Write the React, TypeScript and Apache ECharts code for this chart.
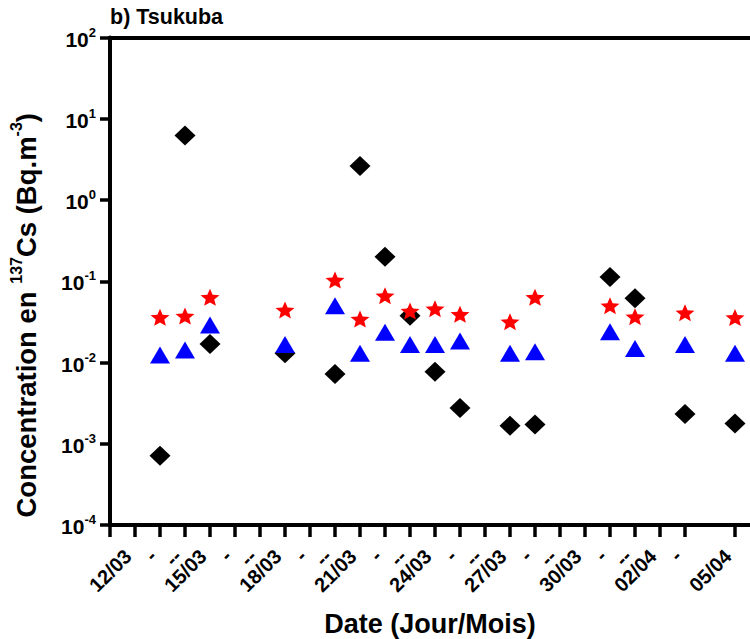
import React, { useEffect, useRef } from "react";
import * as echarts from "echarts";

const dayLabels = ["", "12/03", "-", "--", "15/03", "-", "--", "18/03", "-", "--", "21/03", "-", "--", "24/03", "-", "--", "27/03", "-", "--", "30/03", "-", "--", "02/04", "-", "--", "05/04"];
const sampleDay = [2, 3, 4, 7, 9, 10, 11, 12, 13, 14, 16, 17, 20, 21, 23, 25];
const diamondValues = [0.00071, 6.2, 0.0169, 0.013, 0.0072, 2.62, 0.2, 0.0377, 0.0077, 0.00275, 0.00167, 0.00173, 0.113, 0.0616, 0.00232, 0.00178];
const triangleValues = [0.0124, 0.01425, 0.029, 0.0167, 0.05, 0.013, 0.0235, 0.0167, 0.0167, 0.0184, 0.013, 0.0136, 0.0239, 0.0149, 0.0167, 0.013];
const starValues = [0.036, 0.0373, 0.0634, 0.0443, 0.1036, 0.0343, 0.0664, 0.043, 0.0459, 0.0392, 0.0318, 0.0634, 0.05, 0.0366, 0.041, 0.0357];

const FONT = "Liberation Sans";
const STAR = "path://M100 0 L126.45 63.59 L195.11 69.1 L142.8 113.91 L158.78 180.9 L100 145 L41.22 180.9 L57.2 113.91 L4.89 69.1 L73.55 63.59 Z";

export default function App() {
  const ref = useRef<HTMLDivElement>(null);
  useEffect(() => {
    document.body.style.margin = "0";
    const chart = echarts.init(ref.current!, null, { renderer: "svg" });
    const pairs = (vals: number[]) => sampleDay.map((d, i) => [d, vals[i]]);
    const tickIdx = dayLabels.map((_, i) => i);
    chart.setOption({
      animation: false,
      backgroundColor: "#fff",
      title: {
        text: "b) Tsukuba",
        left: 110,
        top: 6,
        padding: 0,
        textStyle: { fontFamily: FONT, fontWeight: "bold", fontSize: 21.5, color: "#000" },
      },
      grid: { left: 110, right: 0, top: 37.5, bottom: 114, containLabel: false, outerBoundsMode: "none" },
      xAxis: [
        {
          type: "value",
          min: 0,
          max: 25.6,
          name: "Date (Jour/Mois)",
          nameLocation: "middle",
          nameGap: 85,
          nameTextStyle: { fontFamily: FONT, fontWeight: "bold", fontSize: 27, color: "#000" },
          axisLine: { onZero: false, lineStyle: { color: "#000", width: 4 } },
          axisTick: { customValues: tickIdx, length: 12, lineStyle: { color: "#000", width: 3.5 } },
          axisLabel: {
            customValues: tickIdx,
            rotate: 45,
            margin: 35,
            verticalAlign: "bottom",
            align: "right",
            showMaxLabel: true,
            showMinLabel: true,
            hideOverlap: false,
            fontFamily: FONT,
            fontWeight: "bold",
            fontSize: 20,
            color: "#000",
            formatter: (v: number) => dayLabels[Math.round(v)] ?? "",
          },
          splitLine: { show: false },
        },
        {
          type: "value",
          position: "top",
          min: 0,
          max: 25.6,
          axisLine: { onZero: false, lineStyle: { color: "#000", width: 4 } },
          axisTick: { show: false },
          axisLabel: { show: false },
          splitLine: { show: false },
        },
      ],
      yAxis: {
        type: "log",
        logBase: 10,
        min: 0.0001,
        max: 100,
        name: "{n|Concentration en }{s|137}{n|Cs (Bq.m}{s|-3}{n|)}",
        nameLocation: "middle",
        nameRotate: 90,
        nameGap: 70,
        nameTextStyle: {
          padding: [0, 68, 0, 0],
          rich: {
            n: { fontFamily: FONT, fontWeight: "bold", fontSize: 27.5, color: "#000", verticalAlign: "bottom", padding: [4, 0, 0, 0] },
            s: { fontFamily: FONT, fontWeight: "bold", fontSize: 16, color: "#000", verticalAlign: "top" },
          },
        },
        axisLine: { show: true, lineStyle: { color: "#000", width: 4 } },
        axisTick: { show: true, length: 10, lineStyle: { color: "#000", width: 3.5 } },
        minorTick: { show: false },
        splitLine: { show: false },
        axisLabel: {
          margin: 14,
          formatter: (v: number) => {
            const e = Math.round(Math.log10(v));
            return `{b|10}{s|${e}}`;
          },
          rich: {
            b: { fontFamily: FONT, fontWeight: "bold", fontSize: 21, color: "#000", verticalAlign: "bottom", padding: [3, 0, 0, 0] },
            s: { fontFamily: FONT, fontWeight: "bold", fontSize: 13, color: "#000", verticalAlign: "top" },
          },
        },
      },
      series: [
        {
          name: "Diamonds",
          type: "scatter",
          symbol: "diamond",
          symbolSize: [21, 20],
          itemStyle: { color: "#000", opacity: 1 },
          data: pairs(diamondValues),
          z: 2,
        },
        {
          name: "Triangles",
          type: "scatter",
          symbol: "triangle",
          symbolSize: [20, 17],
          itemStyle: { color: "#0000ff", opacity: 1 },
          data: pairs(triangleValues),
          z: 3,
        },
        {
          name: "Stars",
          type: "scatter",
          symbol: STAR,
          symbolSize: [19, 17],
          itemStyle: { color: "#ff0000", opacity: 1 },
          data: pairs(starValues),
          z: 4,
        },
      ],
    });
    return () => chart.dispose();
  }, []);
  return <div ref={ref} style={{ width: 750, height: 639 }} />;
}
